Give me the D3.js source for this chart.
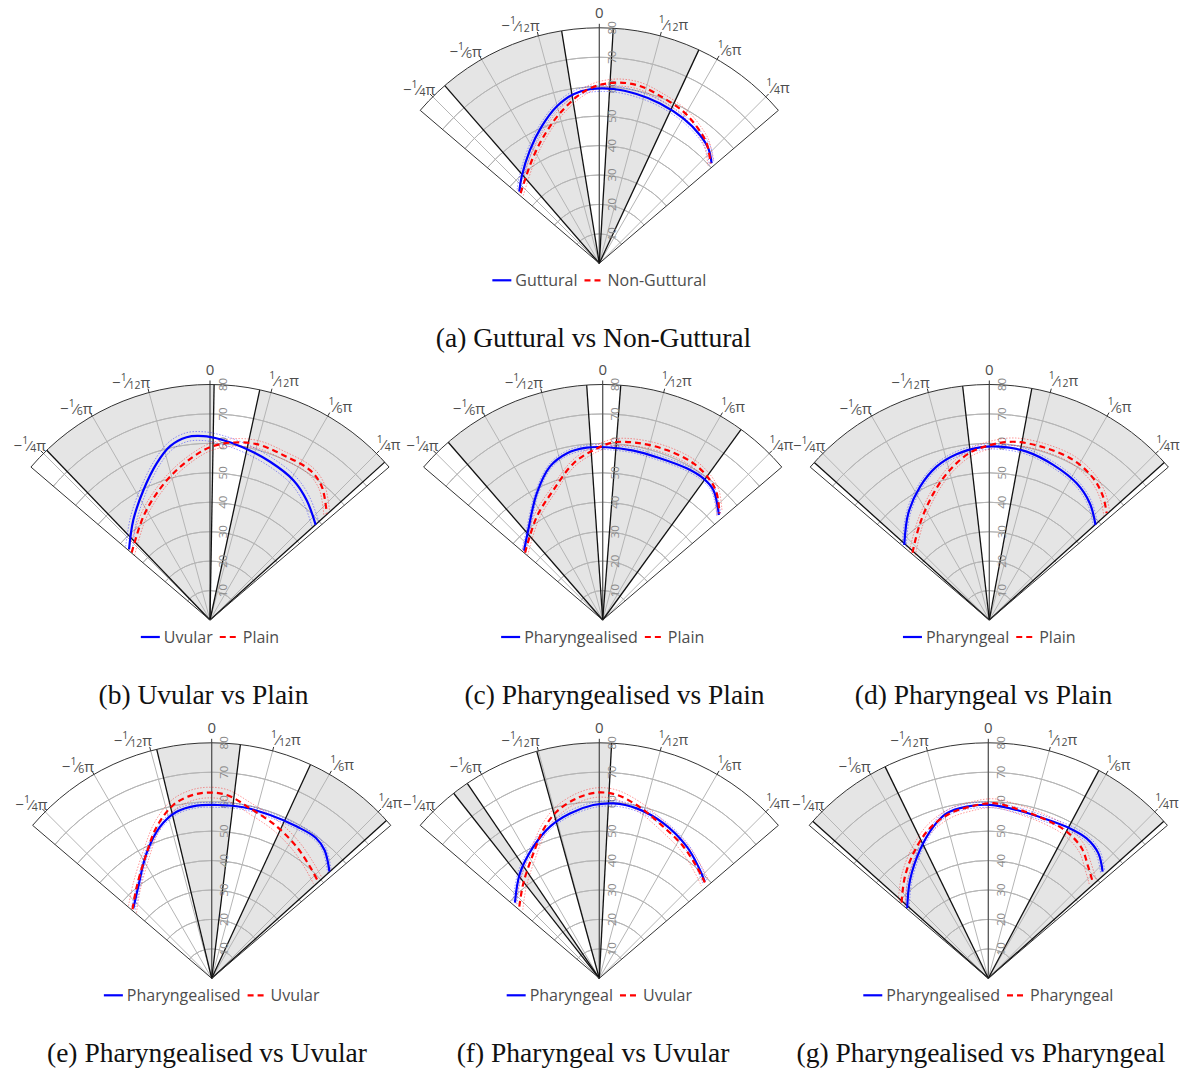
<!DOCTYPE html>
<html><head><meta charset="utf-8">
<script src="https://cdn.jsdelivr.net/npm/d3@7"></script>
<style>body{margin:0;background:#fff} svg{display:block}</style>
</head><body><svg id="chart" width="1183" height="1070"></svg>
<script>
// ---------- DATA ----------
const angleTicks = [-45, -30, -15, 0, 15, 30, 45];              // degrees
const angleTickLabels = ["−¹⁄₄π", "−¹⁄₆π", "−¹⁄₁₂π", "0", "¹⁄₁₂π", "¹⁄₆π", "¹⁄₄π"];
const radiusTicks = [10, 20, 30, 40, 50, 60, 70, 80];

const captions = [
  "(a) Guttural vs Non-Guttural", "(b) Uvular vs Plain", "(c) Pharyngealised vs Plain",
  "(d) Pharyngeal vs Plain", "(e) Pharyngealised vs Uvular", "(f) Pharyngeal vs Uvular",
  "(g) Pharyngealised vs Pharyngeal"
];
const legendNames = [
  ["Guttural", "Non-Guttural"], ["Uvular", "Plain"], ["Pharyngealised", "Plain"],
  ["Pharyngeal", "Plain"], ["Pharyngealised", "Uvular"], ["Pharyngeal", "Uvular"],
  ["Pharyngealised", "Pharyngeal"]
];

// curves: [theta (degrees), radius]
const gutturalA = [[-48.1,36.5],[-41.9,39.5],[-31.5,45.1],[-22.9,50.4],[-15.2,55.2],[-8.7,58.1],[-3.1,59.2],[4.6,59.4],[12.4,58.9],[20.8,58.1],[30.1,56.9],[38.1,55.4],[43.5,53.8],[48.3,51.1]];
const nonGutturalA = [[-48.3,35.8],[-31.7,42.6],[-21.8,48.2],[-14.7,52.7],[-7.7,57.1],[-3.1,59.5],[1.3,60.9],[6.5,61.8],[12.9,61.8],[19.9,60.5],[29.0,58.9],[35.5,57.0],[41.8,54.7],[48.1,50.8]];
const uvularB = [[-48.9,36.5],[-37.5,42.8],[-27.1,49.6],[-18.8,56.2],[-12.9,60.6],[-7.3,62.6],[-2.1,62.5],[3.2,61.5],[10.9,59.7],[20.8,57.5],[30.8,55.3],[38.9,52.3],[48.0,48.3]];
const plainB = [[-49.3,35.1],[-32.8,41.8],[-22.8,46.7],[-14.0,51.4],[-5.8,55.8],[0,58.7],[6.4,60.6],[14.9,61.8],[24.0,61.3],[33.7,61.2],[40.0,59.1],[47.6,53.7]];
const pharyngealisedC = [[-48.6,35.6],[-39.6,39.7],[-27.5,48.5],[-19.0,55.1],[-12.2,57.9],[-5.3,58.8],[1.3,58.7],[10.3,58.5],[19.5,58.3],[29.0,58.9],[35.4,59.0],[40.4,58.0],[47.9,53.2]];
const plainC = [[-49.1,34.9],[-32.6,41.6],[-20.8,47.2],[-10.6,54.1],[-3.1,57.8],[3.4,60.4],[10.9,61.3],[20.6,61.7],[30.1,61.5],[37.5,59.9],[42.0,57.9],[47.6,53.7]];
const pharyngealD = [[-48.6,38.5],[-37.2,45.5],[-27.5,51.0],[-19.0,55.1],[-11.2,57.4],[-3.1,58.7],[3.5,59.0],[12.5,58.6],[22.4,57.0],[32.6,55.1],[40.8,52.3],[48.2,48.4]];
const plainD = [[-48.8,34.7],[-35.6,40.4],[-23.8,47.0],[-14.7,52.7],[-6.6,57.2],[0.2,59.4],[7.7,61.1],[17.4,61.5],[27.7,61.4],[36.3,59.7],[42.7,57.0],[47.7,53.9]];
const pharyngealisedE = [[-48.2,35.7],[-38.7,39.9],[-27.5,47.9],[-18.8,54.4],[-11.9,57.8],[-5.0,58.9],[1.7,58.9],[10.5,59.1],[19.7,58.9],[29.3,59.1],[36.5,59.4],[41.4,58.0],[47.8,54.0]];
const uvularE = [[-48.9,35.7],[-39.3,40.2],[-27.5,47.9],[-19.9,54.8],[-12.5,60.3],[-6.8,62.4],[-1.5,63.1],[4.7,62.5],[12.7,59.2],[23.2,56.1],[32.8,53.2],[41.4,50.5],[47.1,49.0]];
const pharyngealF = [[-48.1,38.5],[-37.1,44.7],[-26.6,50.0],[-18.0,54.2],[-10.1,56.9],[-2.0,58.9],[4.6,59.6],[12.4,59.1],[22.4,57.0],[33.6,53.7],[41.6,50.7],[47.5,48.6]];
const uvularF = [[-48.1,36.5],[-38.7,41.3],[-27.8,48.0],[-20.7,53.9],[-14.4,58.4],[-7.2,61.6],[-0.8,63.1],[5.4,62.6],[13.4,59.7],[22.9,55.9],[32.5,53.1],[41.1,50.3],[47.8,48.4]];
const pharyngealisedG = [[-49.2,36.4],[-38.5,42.7],[-28.0,49.4],[-19.9,54.8],[-14.2,57.8],[-7.2,58.8],[0.6,58.9],[9.6,58.0],[19.0,57.5],[28.6,58.0],[35.1,58.1],[41.3,56.6],[47.0,53.1]];
const pharyngealG = [[-48.9,39.1],[-39.3,44.7],[-29.7,50.2],[-21.3,54.7],[-13.1,57.5],[-6.1,58.6],[1.6,59.5],[10.7,58.2],[20.2,57.3],[28.1,56.5],[35.7,54.4],[41.8,50.9],[47.2,48.3]];

// confidence half-widths [solid, dashed]
const ciWidths = [[1.0,1.2],[1.5,1.3],[0.8,1.2],[0.9,1.3],[0.8,1.8],[0.9,1.6],[0.9,1.5]];

// significant-difference intervals (degrees)
const sigA = [[-41.0,-9.2],[3.4,25.0]];
const sigB = [[-43.9,1.0],[12.2,47.9]];
const sigC = [[-41.0,-3.9],[4.4,36.0]];
const sigD = [[-48.0,-6.5],[10.4,48.0]];
const sigE = [[-13.5,7.0],[24.8,47.9]];
const sigF = [[-38.2,-34.1],[-15.4,3.0]];
const sigG = [[-48.2,-26.0],[28.0,48.2]];

const panelCurves = [
  [gutturalA, nonGutturalA], [uvularB, plainB], [pharyngealisedC, plainC],
  [pharyngealD, plainD], [pharyngealisedE, uvularE], [pharyngealF, uvularF],
  [pharyngealisedG, pharyngealG]
];
const panelSig = [sigA, sigB, sigC, sigD, sigE, sigF, sigG];

// ---------- LAYOUT ----------
const layout = [
  {cx: 599.3, cy: 263.3, capX: 593.5},
  {cx: 210.0, cy: 620.0, capX: 203.5},
  {cx: 602.7, cy: 620.0, capX: 614.5},
  {cx: 989.3, cy: 620.0, capX: 983.5},
  {cx: 211.7, cy: 978.3, capX: 207},
  {cx: 599.3, cy: 978.3, capX: 593},
  {cx: 988.3, cy: 978.3, capX: 981}
];
const labelAngleNudge = [-0.9, -2.2, -3.3, 0, 2.2, 1.3, 0.4];   // label placement only
const R = 235.5;
const EDGE = 49.5;
const rad = d => d * Math.PI / 180;
const rScale = d3.scaleLinear().domain([0, 80]).range([0, R]);

const svg = d3.select("#chart");
const BLUE = "#0000ff", RED = "#ff0000", TXT = "#4d4d4d";

function fracLabel(sel, str) {
  const sup = {"¹": "1"}, sub = {"₁": "1", "₂": "2", "₄": "4", "₆": "6"};
  const runs = [];
  for (const ch of str) {
    const t = sup[ch] ? "sup" : sub[ch] ? "sub" : "n";
    const c = sup[ch] || sub[ch] || ch;
    if (runs.length && runs[runs.length - 1].t === t) runs[runs.length - 1].s += c;
    else runs.push({t, s: c});
  }
  let shift = 0;
  runs.forEach(r => {
    const target = r.t === "sup" ? -5 : r.t === "sub" ? 3 : 0;
    sel.append("tspan").attr("dy", target - shift)
      .attr("font-size", r.t === "n" ? 15 : 10.5).text(r.s);
    shift = target;
  });
}

const radialLine = d3.lineRadial()
  .angle(d => rad(d[0])).radius(d => rScale(d[1]))
  .curve(d3.curveCatmullRom.alpha(0.5));

layout.forEach((L, i) => {
  const g = svg.append("g").attr("transform", `translate(${L.cx},${L.cy})`);
  const arc = d3.arc().innerRadius(0).outerRadius(R);

  g.append("path").attr("d", arc({startAngle: rad(-EDGE), endAngle: rad(EDGE)}))
    .attr("fill", "#fff");

  panelSig[i].forEach(s => {
    g.append("path").attr("d", arc({startAngle: rad(s[0]), endAngle: rad(s[1])}))
      .attr("fill", "#e5e5e5");
  });

  radiusTicks.filter(v => v < 80).forEach(v => {
    g.append("path")
      .attr("d", d3.arc().innerRadius(rScale(v)).outerRadius(rScale(v))
        ({startAngle: rad(-EDGE), endAngle: rad(EDGE)}))
      .attr("fill", "none").attr("stroke", "#b5b5b5").attr("stroke-width", 1);
  });
  angleTicks.forEach(a => {
    g.append("line")
      .attr("x1", 0).attr("y1", 0)
      .attr("x2", R * Math.sin(rad(a))).attr("y2", -R * Math.cos(rad(a)))
      .attr("stroke", a === 0 ? "#555" : "#b5b5b5").attr("stroke-width", a === 0 ? 1.3 : 1);
  });

  panelSig[i].forEach(s => {
    s.forEach(a => {
      g.append("line").attr("x1", 0).attr("y1", 0)
        .attr("x2", R * Math.sin(rad(a))).attr("y2", -R * Math.cos(rad(a)))
        .attr("stroke", "#111").attr("stroke-width", 1.3);
    });
  });

  radiusTicks.forEach(v => {
    g.append("text")
      .attr("transform", `translate(12,${-rScale(v)}) rotate(-90)`)
      .attr("text-anchor", "middle").attr("dominant-baseline", "central")
      .attr("font-family", "Open Sans").attr("font-size", 11.5).attr("fill", "#8a8a8a")
      .text(v);
  });

  const [c1, c2] = panelCurves[i];
  const [w1, w2] = ciWidths[i];
  [[c1, w1, BLUE], [c2, w2, RED]].forEach(([c, w, col]) => {
    [w, -w].forEach(off => {
      g.append("path").attr("d", radialLine(c.map(d => [d[0], d[1] + off])))
        .attr("fill", "none").attr("stroke", col).attr("stroke-width", 0.8)
        .attr("stroke-opacity", 0.5).attr("stroke-dasharray", "1.5,1.5");
    });
  });
  [[c1, BLUE, null], [c2, RED, "6,4"]].forEach(([c, col, dash]) => {
    g.append("path").attr("d", radialLine(c))
      .attr("fill", "none").attr("stroke", col).attr("stroke-width", 2.2)
      .attr("stroke-dasharray", dash);
  });

  g.append("path").attr("d", arc({startAngle: rad(-EDGE), endAngle: rad(EDGE)}))
    .attr("fill", "none").attr("stroke", "#333").attr("stroke-width", 1)
    .attr("stroke-linejoin", "miter");

  angleTicks.forEach((a, k) => {
    const s = Math.sin(rad(a)), c = Math.cos(rad(a));
    g.append("line").attr("x1", R * s).attr("y1", -R * c)
      .attr("x2", (R + 4) * s).attr("y2", -(R + 4) * c)
      .attr("stroke", "#333").attr("stroke-width", 1);
    const la = rad(a + labelAngleNudge[k]);
    const t = g.append("text")
      .attr("x", 251 * Math.sin(la)).attr("y", -251 * Math.cos(la))
      .attr("text-anchor", "middle").attr("dominant-baseline", "central")
      .attr("font-family", "Open Sans").attr("font-size", 15).attr("fill", TXT);
    fracLabel(t, angleTickLabels[k]);
  });

  const lg = svg.append("g");
  let x = 0;
  legendNames[i].forEach((name, k) => {
    lg.append("line").attr("x1", x).attr("x2", x + 19).attr("y1", 0).attr("y2", 0)
      .attr("stroke", k === 0 ? BLUE : RED).attr("stroke-width", 2.2)
      .attr("stroke-dasharray", k === 0 ? null : "6,4");
    const tx = lg.append("text").attr("x", x + 23).attr("y", 0)
      .attr("dominant-baseline", "central")
      .attr("font-family", "Open Sans").attr("font-size", 16).attr("fill", TXT)
      .text(name);
    x += 23 + tx.node().getComputedTextLength() + 7;
  });
  const lw = x - 7;
  lg.attr("transform", `translate(${L.cx - lw / 2},${L.cy + 17})`);

  svg.append("text").attr("x", L.capX).attr("y", L.cy + 84)
    .attr("text-anchor", "middle")
    .attr("font-family", "Liberation Serif").attr("font-size", 27.5).attr("fill", "#111")
    .text(captions[i]);
});
</script></body></html>
